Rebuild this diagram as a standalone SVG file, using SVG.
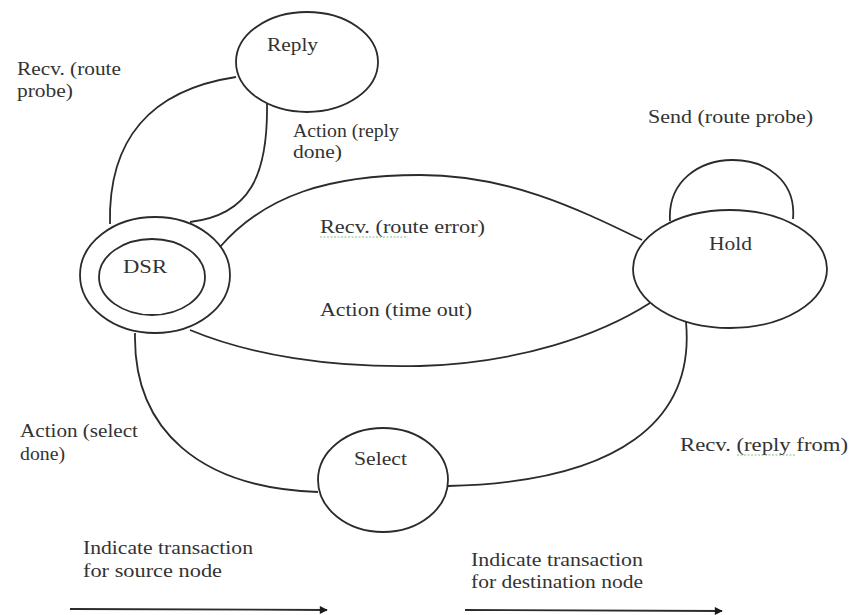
<svg xmlns="http://www.w3.org/2000/svg" width="849" height="615" viewBox="0 0 849 615">
<defs>
<style>
.n{fill:none;stroke:#2b2b2b;stroke-width:1.8}
.c{fill:none;stroke:#2b2b2b;stroke-width:1.8}
.t{font-family:'Liberation Serif','Times New Roman',serif;font-size:18px;fill:#333}
.sq{fill:none;stroke:#7cc47c;stroke-width:1;stroke-dasharray:2 1.5}
</style>
<marker id="ah" viewBox="0 0 10 10" refX="9" refY="5" markerWidth="9" markerHeight="8" markerUnits="userSpaceOnUse" orient="auto">
<path d="M0,0 L10,5 L0,10 z" fill="#1a1a1a"/>
</marker>
</defs>
<rect width="849" height="615" fill="#fff"/>

<g id="connectors">
<path class="c" d="M110,224 C108,140 150,90 236,77"/>
<path class="c" d="M267,104 C268,175 250,215 190,222"/>
<path class="c" d="M220,247 C265,195 330,175 420,175 C510,175 580,210 642,240"/>
<path class="c" d="M190,330 C250,355 330,368 420,366 C520,363 600,335 650,303"/>
<path class="c" d="M135,333 C133,430 200,488 318,492"/>
<path class="c" d="M686,322 C695,420 620,482 448,486"/>
<path class="c" d="M670,221 C665,140 800,140 793,219"/>
</g>

<g id="node-reply">
<ellipse class="n" cx="307" cy="62" rx="71" ry="50" fill="#fff"/>
<text class="t" x="267" y="51" textLength="51" lengthAdjust="spacingAndGlyphs">Reply</text>
</g>

<g id="node-dsr">
<ellipse class="n" cx="155" cy="275" rx="75" ry="58"/>
<ellipse class="n" cx="152" cy="277" rx="53" ry="38"/>
<text class="t" x="123" y="273" textLength="44" lengthAdjust="spacingAndGlyphs">DSR</text>
</g>

<g id="node-hold">
<ellipse class="n" cx="730" cy="269" rx="97" ry="59" fill="#fff"/>
<text class="t" x="709" y="250" textLength="43" lengthAdjust="spacingAndGlyphs">Hold</text>
</g>

<g id="node-select">
<ellipse class="n" cx="383" cy="480" rx="65" ry="52" fill="#fff"/>
<text class="t" x="354" y="465" textLength="53" lengthAdjust="spacingAndGlyphs">Select</text>
</g>

<g id="labels">
<text class="t" x="17" y="75" textLength="104" lengthAdjust="spacingAndGlyphs">Recv. (route</text>
<text class="t" x="17" y="97" textLength="56" lengthAdjust="spacingAndGlyphs">probe)</text>
<text class="t" x="293" y="137" textLength="106" lengthAdjust="spacingAndGlyphs">Action (reply</text>
<text class="t" x="293" y="158" textLength="49" lengthAdjust="spacingAndGlyphs">done)</text>
<text class="t" x="320" y="233" textLength="165" lengthAdjust="spacingAndGlyphs">Recv. (route error)</text>
<path class="sq" d="M320,237 L408,237"/>
<text class="t" x="648" y="123" textLength="165" lengthAdjust="spacingAndGlyphs">Send (route probe)</text>
<text class="t" x="320" y="316" textLength="152" lengthAdjust="spacingAndGlyphs">Action (time out)</text>
<text class="t" x="20" y="437" textLength="118" lengthAdjust="spacingAndGlyphs">Action (select</text>
<text class="t" x="20" y="460" textLength="45" lengthAdjust="spacingAndGlyphs">done)</text>
<text class="t" x="680" y="451" textLength="168" lengthAdjust="spacingAndGlyphs">Recv. (reply from)</text>
<path class="sq" d="M737,455 L795,455"/>
<text class="t" x="83" y="554" textLength="170" lengthAdjust="spacingAndGlyphs">Indicate transaction</text>
<text class="t" x="83" y="577" textLength="139" lengthAdjust="spacingAndGlyphs">for source node</text>
<text class="t" x="471" y="566" textLength="172" lengthAdjust="spacingAndGlyphs">Indicate transaction</text>
<text class="t" x="471" y="588" textLength="172" lengthAdjust="spacingAndGlyphs">for destination node</text>
</g>

<g id="legend-arrows">
<line class="c" x1="70" y1="609" x2="327" y2="610" marker-end="url(#ah)"/>
<line class="c" x1="465" y1="610" x2="722" y2="611" marker-end="url(#ah)"/>
</g>
</svg>
